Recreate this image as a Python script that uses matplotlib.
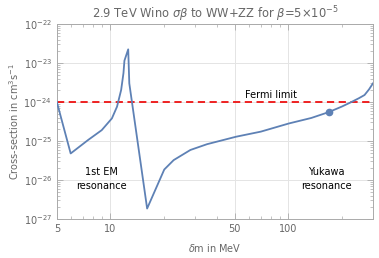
import matplotlib.pyplot as plt
from matplotlib.ticker import FixedLocator, NullFormatter

# curve (delta m in MeV, cross-section in cm^3/s)
dm = [5.0, 5.98, 7.51, 8.94, 10.2, 10.9, 11.5, 11.85, 12.0, 12.6, 12.78,
      16.1, 20.1, 22.7, 28.2, 35.0, 51.0, 70.2, 101, 135, 169, 200, 225,
      250, 269, 285, 300]
sigma = [1.0e-24, 4.8e-26, 1.07e-25, 1.9e-25, 3.8e-25, 7.6e-25, 2.04e-24,
         5.5e-24, 1.15e-23, 2.24e-23, 3.0e-24, 1.86e-27, 1.86e-26,
         3.24e-26, 5.9e-26, 8.3e-26, 1.29e-25, 1.74e-25, 2.82e-25,
         3.9e-25, 5.5e-25, 7.6e-25, 9.8e-25, 1.25e-24, 1.51e-24, 2.1e-24,
         3.0e-24]
dot_x = [169]
dot_y = [5.5e-25]
fermi = 1e-24
xticks = [5, 10, 50, 100]
xticklabels = ["5", "10", "50", "100"]

blue = "#5E81B5"
grey = "#666666"

fig = plt.figure(figsize=(3.79, 2.58), dpi=100)
ax = fig.add_axes([0.150, 0.151, 0.834, 0.756])

ax.plot(dm, sigma, color=blue, lw=1.3, zorder=3)
ax.plot(dot_x, dot_y, "o", color=blue, ms=4.5, zorder=4)
ax.axhline(fermi, color="#ee1111", lw=1.3, ls=(0, (4, 2.5)), zorder=2)

ax.set_xscale("log")
ax.set_yscale("log")
ax.set_xlim(5, 300)
ax.set_ylim(1e-27, 1e-22)

ax.xaxis.set_major_locator(FixedLocator(xticks))
ax.set_xticklabels(xticklabels)
minors = [6, 7, 8, 9, 20, 30, 40, 60, 70, 80, 90, 200, 300]
ax.xaxis.set_minor_locator(FixedLocator(minors))
ax.xaxis.set_minor_formatter(NullFormatter())

ax.grid(True, which="major", color="#e4e4e4", lw=0.7)
for s in ax.spines.values():
    s.set_color("#aaaaaa")
    s.set_linewidth(0.7)
ax.tick_params(which="both", direction="in", top=True, right=True,
               colors="#aaaaaa", labelcolor=grey, labelsize=7)
ax.tick_params(which="major", length=4, width=0.6)
ax.tick_params(which="minor", length=2, width=0.5)

ax.set_title(r"2.9 TeV Wino $\sigma\beta$ to WW+ZZ for $\beta$=5$\times$10$^{-5}$",
             fontsize=8.3, color=grey, pad=4)
ax.set_xlabel(r"$\delta$m in MeV", fontsize=7, color=grey, labelpad=6)
ax.set_ylabel(r"Cross-section in cm$^3$s$^{-1}$", fontsize=7, color=grey, labelpad=2)

ax.text(0.141, 0.205, "1st EM\nresonance", transform=ax.transAxes,
        ha="center", va="center", fontsize=7, linespacing=1.4)
ax.text(0.853, 0.205, "Yukawa\nresonance", transform=ax.transAxes,
        ha="center", va="center", fontsize=7, linespacing=1.4)
ax.text(80, 1.15e-24, "Fermi limit", ha="center", va="bottom", fontsize=7)

fig.savefig("out.png", dpi=100)
